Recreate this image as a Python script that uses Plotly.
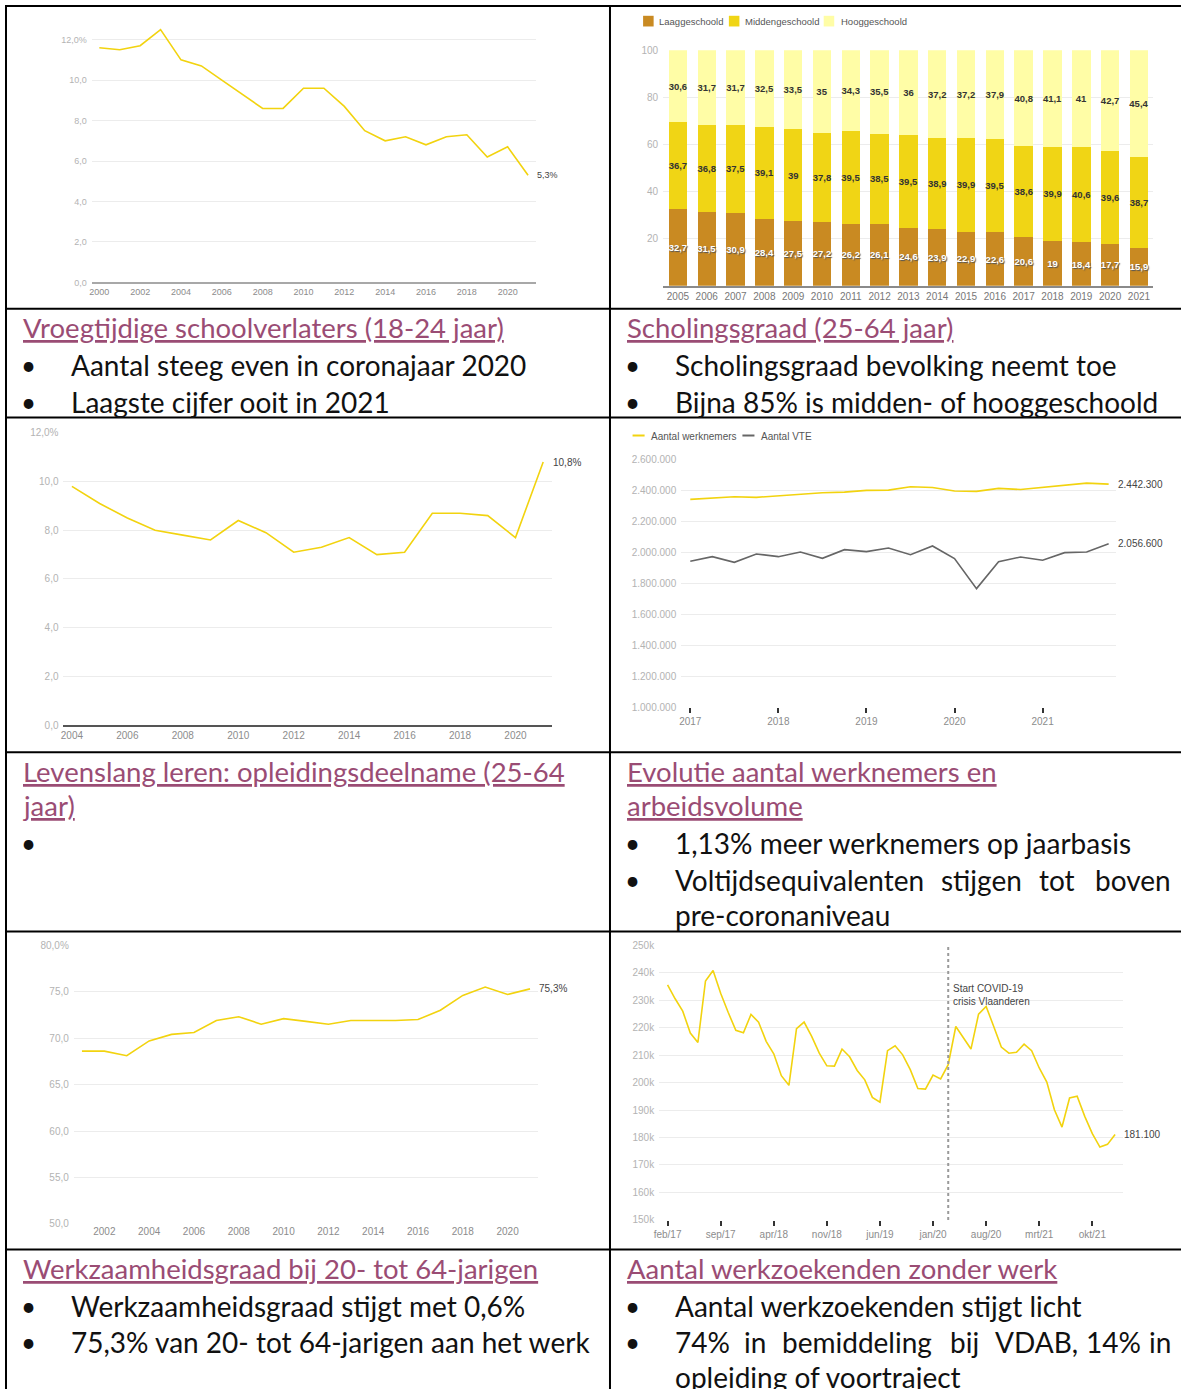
import plotly.graph_objects as go

W, H = 1181, 1389

# The photographed page comes out slightly shrunk and shifted; these constants map
# the wanted picture coordinates (pixels from top-left) onto paper coordinates.
SCALE = 0.9925
OFF_X, OFF_Y = 6.0, 5.0


def fx(p):
    return ((p - OFF_X) / SCALE) / W


def fy(p):
    return 1 - ((p - OFF_Y) / SCALE) / H


# ------------------------------------------------------------------ DATA
# 1. Vroegtijdige schoolverlaters
vsv_years = list(range(2000, 2022))
vsv_values = [11.6, 11.5, 11.7, 12.5, 11.0, 10.7, 10.0, 9.3, 8.6, 8.6, 9.6, 9.6,
              8.7, 7.5, 7.0, 7.2, 6.8, 7.2, 7.3, 6.2, 6.7, 5.3]
vsv_yticks = [0, 2, 4, 6, 8, 10, 12]
vsv_yticktext = ['0,0', '2,0', '4,0', '6,0', '8,0', '10,0', '12,0%']
vsv_xticks = list(range(2000, 2021, 2))

# 2. Scholingsgraad
sch_years = list(range(2005, 2022))
sch_laag = [32.7, 31.5, 30.9, 28.4, 27.5, 27.2, 26.2, 26.1, 24.6, 23.9, 22.9, 22.6,
            20.6, 19, 18.4, 17.7, 15.9]
sch_midden = [36.7, 36.8, 37.5, 39.1, 39, 37.8, 39.5, 38.5, 39.5, 38.9, 39.9, 39.5,
              38.6, 39.9, 40.6, 39.6, 38.7]
sch_hoog = [30.6, 31.7, 31.7, 32.5, 33.5, 35, 34.3, 35.5, 36, 37.2, 37.2, 37.9,
            40.8, 41.1, 41, 42.7, 45.4]
sch_names = ['Laaggeschoold', 'Middengeschoold', 'Hooggeschoold']
sch_yticks = [20, 40, 60, 80, 100]

# 3. Levenslang leren
lll_years = list(range(2004, 2022))
lll_values = [9.8, 9.1, 8.5, 8.0, 7.8, 7.6, 8.4, 7.9, 7.1, 7.3, 7.7, 7.0, 7.1,
              8.7, 8.7, 8.6, 7.7, 10.8]
lll_yticks = [0, 2, 4, 6, 8, 10, 12]
lll_yticktext = ['0,0', '2,0', '4,0', '6,0', '8,0', '10,0', '12,0%']
lll_xticks = list(range(2004, 2021, 2))

# 4. Werknemers en VTE (kwartalen 2017Q1 - 2021Q4)
wn_quarter_pos = [2017.00, 2017.25, 2017.50, 2017.75, 2018.00, 2018.25, 2018.50, 2018.75,
                  2019.00, 2019.25, 2019.50, 2019.75, 2020.00, 2020.25, 2020.50, 2020.75,
                  2021.00, 2021.25, 2021.50, 2021.75]
wn_werknemers = [2343800, 2352000, 2361000, 2357000, 2367000, 2376000, 2387000, 2391000,
                 2402000, 2404000, 2426000, 2421000, 2398000, 2396000, 2415000, 2408000,
                 2423000, 2434000, 2449000, 2442300]
wn_vte = [1943400, 1973500, 1937000, 1990800, 1973500, 2003700, 1962800, 2018700,
          2005800, 2029500, 1986500, 2042500, 1960600, 1766900, 1941300, 1971400,
          1950000, 1999400, 2003700, 2056600]
wn_names = ['Aantal werknemers', 'Aantal VTE']
wn_xticks = [2017, 2018, 2019, 2020, 2021]

# 5. Werkzaamheidsgraad
wg_years = list(range(2001, 2022))
wg_values = [68.6, 68.6, 68.1, 69.7, 70.4, 70.6, 71.9, 72.3, 71.5, 72.1, 71.8, 71.5,
             71.9, 71.9, 71.9, 72.0, 73.0, 74.6, 75.5, 74.7, 75.3]
wg_yticks = [50, 55, 60, 65, 70, 75, 80]
wg_yticktext = ['50,0', '55,0', '60,0', '65,0', '70,0', '75,0', '80,0%']
wg_xticks = list(range(2002, 2021, 2))

# 6. Werkzoekenden zonder werk (maanden feb/17 - jan/22), in duizendtallen
nl_months = ['jan', 'feb', 'mrt', 'apr', 'mei', 'jun', 'jul', 'aug', 'sep', 'okt', 'nov', 'dec']
wzw_months = [f"{nl_months[(1 + i) % 12]}/{17 + (1 + i) // 12}" for i in range(60)]
wzw_values_k = [235.6, 230.5, 226.0, 218.0, 214.6, 237.0, 240.8, 232.5, 225.5, 219.0,
                218.1, 224.8, 222.0, 215.0, 210.5, 202.5, 199.0, 219.6, 222.0, 216.8,
                210.7, 206.1, 206.0, 212.2, 209.4, 204.4, 201.0, 194.6, 192.9, 211.6,
                213.4, 210.1, 204.7, 197.8, 197.6, 202.7, 201.3, 206.5, 220.4, 216.4,
                212.2, 224.9, 227.7, 220.4, 212.9, 210.7, 211.0, 214.0, 211.6, 205.3,
                200.2, 190.1, 183.8, 194.4, 195.0, 187.7, 181.4, 176.5, 177.5, 181.1]
wzw_tick_labels = ['feb/17', 'sep/17', 'apr/18', 'nov/18', 'jun/19', 'jan/20', 'aug/20', 'mrt/21', 'okt/21']
wzw_event_month = 'mrt/20'
wzw_event_text = 'Start COVID-19<br>crisis Vlaanderen'

# ------------------------------------------------------------------ STYLE
YELLOW = '#F2D30F'
GREY_LINE = '#666666'
C_LAAG, C_MIDDEN, C_HOOG = '#C98A22', '#F0D515', '#FFFDA6'
GRID = '#ececec'
TICK_Y = '#b3b3b3'
TICK_X = '#8c8c8c'
CHART_FONT = 'Liberation Sans, Arial, sans-serif'
TEXT_FONT = 'Lato, Open Sans, sans-serif'
TITLE_COLOR = '#9A4C74'


def nl_num(v, dec=1):
    return f"{v:.{dec}f}".replace('.', ',')


def nl_label(v):
    return f"{v:g}".replace('.', ',')


def nl_thousands(v):
    return f"{int(round(v)):,}".replace(',', '.')


fig = go.Figure()

# 1
fig.add_trace(go.Scatter(x=vsv_years, y=vsv_values, mode='lines',
                         line=dict(color=YELLOW, width=1.6), xaxis='x', yaxis='y'))
# 2
for name, vals, col, tcol in [(sch_names[0], sch_laag, C_LAAG, 'white'),
                              (sch_names[1], sch_midden, C_MIDDEN, '#333333'),
                              (sch_names[2], sch_hoog, C_HOOG, '#333333')]:
    fig.add_trace(go.Bar(x=sch_years, y=vals, name=name, marker=dict(color=col, line=dict(width=0)),
                         text=[nl_label(v) for v in vals], textposition='inside',
                         insidetextanchor='middle', textangle=0,
                         textfont=dict(family=CHART_FONT, size=9.5, color=tcol, weight='bold',
                                       shadow='1px 1px 1px #555' if tcol == 'white' else 'none'),
                         xaxis='x2', yaxis='y2'))
# 3
fig.add_trace(go.Scatter(x=lll_years, y=lll_values, mode='lines',
                         line=dict(color=YELLOW, width=1.6), xaxis='x3', yaxis='y3'))
# 4
fig.add_trace(go.Scatter(x=wn_quarter_pos, y=wn_vte, mode='lines', name=wn_names[1],
                         line=dict(color=GREY_LINE, width=1.6), xaxis='x4', yaxis='y4'))
fig.add_trace(go.Scatter(x=wn_quarter_pos, y=wn_werknemers, mode='lines', name=wn_names[0],
                         line=dict(color=YELLOW, width=1.6), xaxis='x4', yaxis='y4'))
# 5
fig.add_trace(go.Scatter(x=wg_years, y=wg_values, mode='lines',
                         line=dict(color=YELLOW, width=1.6), xaxis='x5', yaxis='y5'))
# 6
wzw_x = list(range(len(wzw_months)))
fig.add_trace(go.Scatter(x=wzw_x, y=[v * 1000 for v in wzw_values_k], mode='lines',
                         text=wzw_months,
                         line=dict(color=YELLOW, width=1.6), xaxis='x6', yaxis='y6'))


def yax(dom_bottom, dom_top, rng, anchor, size=10, **kw):
    d = dict(domain=[fy(dom_bottom), fy(dom_top)], range=rng, anchor=anchor,
             showgrid=True, gridcolor=GRID, gridwidth=1, zeroline=False, showline=False,
             ticks='', tickfont=dict(family=CHART_FONT, size=size, color=TICK_Y),
             ticklabelstandoff=4, fixedrange=True)
    d.update(kw)
    return d


def xax(dom_left, dom_right, rng, anchor, size=10, color=TICK_X, **kw):
    d = dict(domain=[fx(dom_left), fx(dom_right)], range=rng, anchor=anchor,
             showgrid=False, zeroline=False, showline=False, ticks='',
             tickfont=dict(family=CHART_FONT, size=size, color=color), fixedrange=True)
    d.update(kw)
    return d


month_idx = {m: i for i, m in enumerate(wzw_months)}

fig.update_layout(
    width=W, height=H, margin=dict(l=0, r=0, t=0, b=0),
    paper_bgcolor='white', plot_bgcolor='rgba(0,0,0,0)',
    showlegend=False, separators=',.', barmode='stack', bargap=0.36,
    uniformtext=dict(minsize=9.5, mode='show'),
    font=dict(family=CHART_FONT, size=10, color='#555'),
    # chart 1
    xaxis=xax(92.6, 535, [1999.636, 2021.376], 'y', size=9, tickvals=vsv_xticks,
              showline=True, linecolor='#a8a8a8', linewidth=1.5),
    yaxis=yax(281.7, 22, [0, 12.825], 'x', size=9, tickvals=vsv_yticks, ticktext=vsv_yticktext),
    # chart 2
    xaxis2=xax(662, 1150, [2004.488, 2021.48], 'y2', size=10, color='#777', tickvals=sch_years,
               showline=True, linecolor='#8a8a8a', linewidth=2),
    yaxis2=yax(285, 49.3, [0, 100], 'x2', size=10, tickvals=sch_yticks),
    # chart 3
    xaxis3=xax(64.3, 551, [2003.696, 2021.31], 'y3', size=10, tickvals=lll_xticks,
               showline=True, linecolor='#555', linewidth=1.5),
    yaxis3=yax(725, 432.3, [0, 12], 'x3', size=10, tickvals=lll_yticks, ticktext=lll_yticktext),
    # chart 4
    xaxis4=xax(680, 1113.5, [2016.897, 2021.835], 'y4', size=10, tickvals=wn_xticks,
               ticks='outside', ticklen=5, tickwidth=1.5, tickcolor='#333'),
    yaxis4=yax(707, 459.3, [1000000, 2600000], 'x4', size=10, tick0=1000000, dtick=200000,
               tickformat=',.0f'),
    # chart 5
    xaxis5=xax(74.6, 537, [2000.637, 2021.345], 'y5', size=10, tickvals=wg_xticks),
    yaxis5=yax(1224.3, 945.3, [50, 80], 'x5', size=10, tickvals=wg_yticks, ticktext=wg_yticktext),
    # chart 6
    xaxis6=xax(658, 1120, [-1.11, 60.0], 'y6', size=10,
               tickvals=[month_idx[m] for m in wzw_tick_labels], ticktext=wzw_tick_labels,
               ticks='outside', ticklen=5, tickwidth=1.5, tickcolor='#333'),
    yaxis6=yax(1220.3, 945.3, [150000, 250000], 'x6', size=10, dtick=10000, tickformat='~s'),
)

ann = []
shapes = []


def end_label(xref, yref, x, y, text, shift=7, size=10):
    ann.append(dict(x=x, y=y, xref=xref, yref=yref, text=text, showarrow=False,
                    xanchor='left', yanchor='middle', xshift=shift,
                    font=dict(family=CHART_FONT, size=size, color='#444')))


end_label('x', 'y', vsv_years[-1], vsv_values[-1], nl_num(vsv_values[-1]) + '%', shift=7, size=9)
end_label('x3', 'y3', lll_years[-1], lll_values[-1], nl_num(lll_values[-1]) + '%', shift=8)
end_label('x5', 'y5', wg_years[-1], wg_values[-1], nl_num(wg_values[-1]) + '%', shift=7)
end_label('x4', 'y4', wn_quarter_pos[-1], wn_werknemers[-1], nl_thousands(wn_werknemers[-1]), shift=7)
end_label('x4', 'y4', wn_quarter_pos[-1], wn_vte[-1], nl_thousands(wn_vte[-1]), shift=7)
end_label('x6', 'y6', wzw_x[-1], wzw_values_k[-1] * 1000, nl_thousands(wzw_values_k[-1] * 1000), shift=7)

# covid marker
ev = month_idx[wzw_event_month]
shapes.append(dict(type='line', xref='x6', yref='y6 domain', x0=ev, x1=ev, y0=0, y1=1,
                   line=dict(color='#9a9a9a', width=2, dash='dot')))
ann.append(dict(x=ev, y=fy(995), xref='x6', yref='paper', text=wzw_event_text, showarrow=False,
                xanchor='left', yanchor='middle', xshift=3, align='left',
                font=dict(family=CHART_FONT, size=10, color='#444')))

# legend chart 2 (manual)
leg2 = [(sch_names[0], C_LAAG, 642, 656), (sch_names[1], C_MIDDEN, 727.5, 741.7),
        (sch_names[2], C_HOOG, 822, 837)]
for name, col, sx, tx in leg2:
    shapes.append(dict(type='rect', xref='paper', yref='paper', x0=fx(sx), x1=fx(sx + 10.5),
                       y0=fy(25.5), y1=fy(14.8), fillcolor=col, line=dict(width=0)))
    ann.append(dict(x=fx(tx), y=fy(20.3), xref='paper', yref='paper', text=name, showarrow=False,
                    xanchor='left', yanchor='middle', font=dict(family=CHART_FONT, size=9.5, color='#555')))

# legend chart 4 (manual)
leg4 = [(wn_names[0], YELLOW, 631.5, 648), (wn_names[1], GREY_LINE, 741, 757.2)]
for name, col, sx, tx in leg4:
    shapes.append(dict(type='line', xref='paper', yref='paper', x0=fx(sx), x1=fx(sx + 12),
                       y0=fy(435), y1=fy(435), line=dict(color=col, width=2)))
    ann.append(dict(x=fx(tx), y=fy(435.5), xref='paper', yref='paper', text=name, showarrow=False,
                    xanchor='left', yanchor='middle', font=dict(family=CHART_FONT, size=10, color='#555')))

# ------------------------------------------------------------------ TABLE
BLACK = '#000000'
for yy in [5, 308, 417, 752, 931.5, 1250]:
    shapes.append(dict(type='line', xref='paper', yref='paper', x0=fx(6), x1=fx(1200),
                       y0=fy(yy), y1=fy(yy), line=dict(color=BLACK, width=2)))
for xx in [7, 609]:
    shapes.append(dict(type='line', xref='paper', yref='paper', x0=fx(xx), x1=fx(xx),
                       y0=fy(4), y1=fy(1400), line=dict(color=BLACK, width=2)))

BODY_SIZE = 28
TITLE_SIZE = 27.5


def txt(x, y, s, color='#111111', size=BODY_SIZE, anchor='left'):
    ann.append(dict(x=fx(x), y=fy(y), xref='paper', yref='paper', text=s, showarrow=False,
                    xanchor=anchor, yanchor='middle',
                    font=dict(family=TEXT_FONT, size=size, color=color)))


def title(x, y, s):
    txt(x, y, f'<span style="text-decoration:underline">{s}</span>', color=TITLE_COLOR,
        size=TITLE_SIZE)


def bullet(x, y):
    txt(x, y, '•', anchor='center', size=26)


# left column
title(22, 327, 'Vroegtijdige schoolverlaters (18-24 jaar)')
bullet(29, 364); txt(70, 364, 'Aantal steeg even in coronajaar 2020')
bullet(29, 401); txt(70, 401, 'Laagste cijfer ooit in 2021')
title(22, 771, 'Levenslang leren: opleidingsdeelname (25-64')
title(22, 805, 'jaar)')
bullet(29, 843)
title(22, 1269, 'Werkzaamheidsgraad bij 20- tot 64-jarigen')
bullet(29, 1306); txt(70, 1306, 'Werkzaamheidsgraad stijgt met 0,6%')
bullet(29, 1343); txt(70, 1343, '75,3% van 20- tot 64-jarigen aan het werk')

# right column
title(624, 327, 'Scholingsgraad (25-64 jaar)')
bullet(631, 364); txt(672, 364, 'Scholingsgraad bevolking neemt toe')
bullet(631, 401); txt(672, 401, 'Bijna 85% is midden- of hooggeschoold')
title(624, 771, 'Evolutie aantal werknemers en')
title(624, 805, 'arbeidsvolume')
bullet(631, 843); txt(672, 843, '1,13% meer werknemers op jaarbasis')
bullet(631, 880)
just1 = [('Voltijdsequivalenten', 672), ('stijgen', 937), ('tot', 1035)]
for w, x in just1:
    txt(x, 880, w)
txt(1170, 880, 'boven', anchor='right')
txt(672, 915, 'pre-coronaniveau')
title(624, 1269, 'Aantal werkzoekenden zonder werk')
bullet(631, 1306); txt(672, 1306, 'Aantal werkzoekenden stijgt licht')
bullet(631, 1343)
just2 = [('74%', 672), ('in', 741), ('bemiddeling', 778), ('bij', 946), ('VDAB,', 991), ('14%', 1081)]
for w, x in just2:
    txt(x, 1343, w)
txt(1170, 1343, 'in', anchor='right')
txt(672, 1378, 'opleiding of voortraject')

fig.update_layout(annotations=ann, shapes=shapes)
fig.write_html(
    'out.html',
    config={'displayModeBar': False},
    post_script=(
        "var d=document.getElementById('{plot_id}');"
        "d.style.position='fixed';d.style.left='0px';d.style.top='0px';"
        "document.body.style.margin='0';document.body.style.padding='0';"
        "document.body.style.overflow='hidden';"
        "document.documentElement.style.overflow='hidden';"
    ),
)
